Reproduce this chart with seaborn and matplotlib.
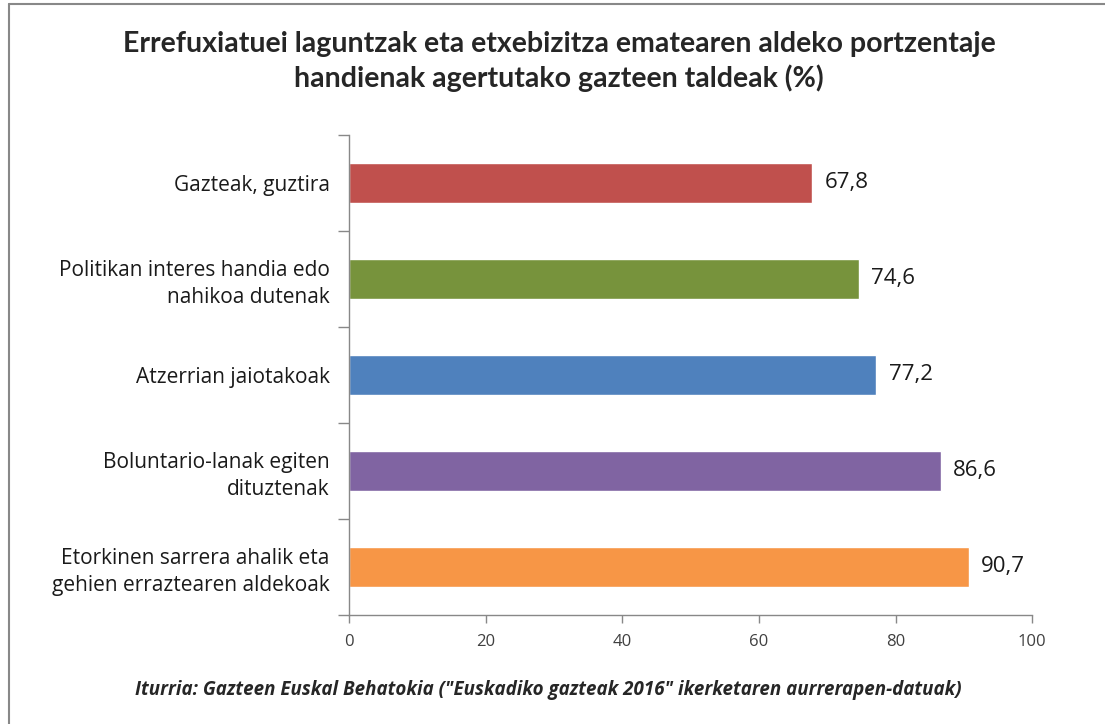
import matplotlib
matplotlib.use("Agg")
from matplotlib import pyplot as plt
from matplotlib.lines import Line2D
import pandas as pd
import seaborn as sns

sns.set_style('white')

# data
groups = ['Gazteak, guztira',
          'Politikan interes handia edo\nnahikoa dutenak',
          'Atzerrian jaiotakoak',
          'Boluntario-lanak egiten\ndituztenak',
          'Etorkinen sarrera ahalik eta\ngehien erraztearen aldekoak']
values = [67.8, 74.6, 77.2, 86.6, 90.7]
value_labels = ['67,8', '74,6', '77,2', '86,6', '90,7']
colors = ['#C0504D', '#77933C', '#4F81BD', '#8064A2', '#F79646']
x_ticks = [0, 20, 40, 60, 80, 100]

title = ('Errefuxiatuei laguntzak eta etxebizitza ematearen aldeko portzentaje\n'
         'handienak agertutako gazteen taldeak (%)')
source = ('Iturria: Gazteen Euskal Behatokia ("Euskadiko gazteak 2016" '
          'ikerketaren aurrerapen-datuak)')

df = pd.DataFrame({'group': groups, 'value': values})

fig = plt.figure(figsize=(11.05, 7.24), dpi=100)
ax = fig.add_axes([0.3158, 0.1506, 0.6183, 0.663])

sns.barplot(data=df, x='value', y='group', hue='group', palette=colors,
            legend=False, width=0.41, ax=ax, saturation=1)

ax.set_xlim(0, 100)
ax.set_xticks(x_ticks)
ax.set_xticklabels([str(t) for t in x_ticks], fontsize=12, color='#404040',
                   family='Open Sans')
ax.set_yticks(range(len(groups)))
ax.set_yticklabels(groups, fontsize=15, family='Open Sans', color='#1a1a1a',
                   ha='right', linespacing=1.35)
ax.set_xlabel('')
ax.set_ylabel('')

# category separators as minor ticks on the y axis
ax.set_yticks([i - 0.5 for i in range(len(groups) + 1)], minor=True)
ax.tick_params(axis='y', which='major', left=False, length=0, pad=14)
ax.tick_params(axis='y', which='minor', left=True, length=8, width=1,
               color='#888888', direction='out')
ax.tick_params(axis='x', bottom=True, length=6, width=1, color='#888888',
               direction='out', pad=8)
ax.set_ylim(len(groups) - 0.5, -0.5)

for side in ['top', 'right']:
    ax.spines[side].set_visible(False)
for side in ['left', 'bottom']:
    ax.spines[side].set_color('#888888')
    ax.spines[side].set_linewidth(1)

for i, (v, lab) in enumerate(zip(values, value_labels)):
    ax.text(v + 1.8, i, lab, va='center', ha='left', fontsize=16,
            family='Open Sans', color='#1a1a1a')

fig.text(0.506, 0.915, title, ha='center', va='center', fontsize=20.5,
         fontweight='bold', family='Lato', linespacing=1.3)
fig.text(0.496, 0.047, source, ha='center', va='center', fontsize=13.5,
         fontweight='bold', fontstyle='italic', family='Open Sans')

# frame around the chart area (top and left edges visible)
fig.add_artist(Line2D([0.0077, 1.0], [0.9945, 0.9945], color='#888888', lw=1.5,
                      transform=fig.transFigure))
fig.add_artist(Line2D([0.0077, 0.0077], [0.0, 0.9945], color='#888888', lw=1.5,
                      transform=fig.transFigure))

fig.savefig('out.png', dpi=100)
